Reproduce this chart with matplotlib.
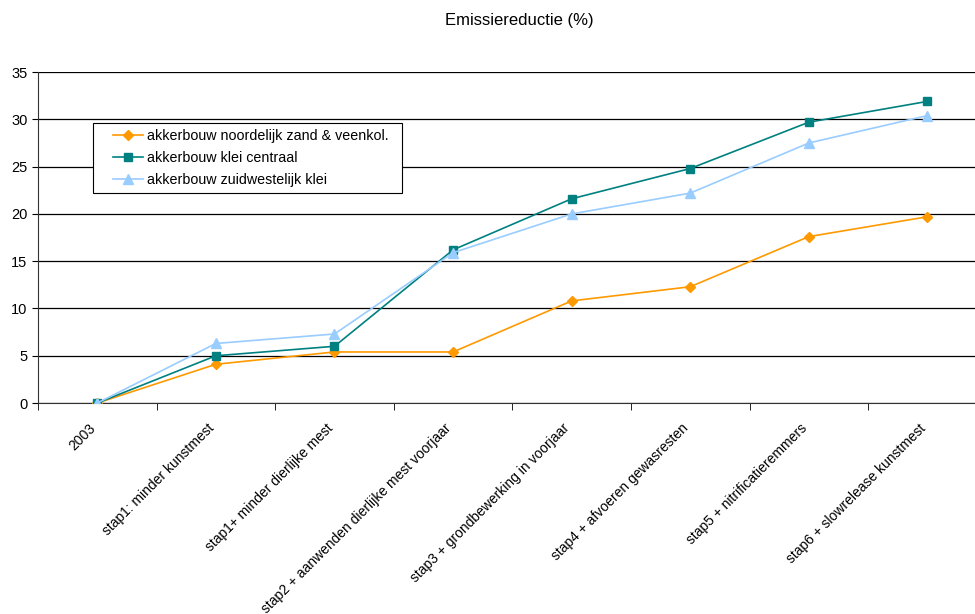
import matplotlib
matplotlib.use("Agg")
import matplotlib.pyplot as plt
import matplotlib.transforms as mtransforms
from matplotlib.lines import Line2D
from matplotlib.legend_handler import HandlerLine2D
import numpy as np

plt.rcParams['font.family'] = ['Liberation Sans', 'DejaVu Sans']

labels = ['2003', 'stap1: minder kunstmest', 'stap1+ minder dierlijke mest',
          'stap2 + aanwenden dierlijke mest voorjaar', 'stap3 + grondbewerking in voorjaar',
          'stap4 + afvoeren gewasresten', 'stap5 + nitrificatieremmers',
          'stap6 + slowrelease kunstmest']
noord = [0, 4.1, 5.4, 5.4, 10.8, 12.3, 17.6, 19.7]
klei_centraal = [0, 5.0, 6.0, 16.2, 21.6, 24.8, 29.7, 31.9]
zuidwest = [0, 6.3, 7.3, 15.9, 20.0, 22.2, 27.5, 30.4]

fig = plt.figure(figsize=(9.75, 6.14), dpi=100)
ax = fig.add_axes([0.039, 0.3436, 0.973, 0.539])

x = np.arange(len(labels))
ax.plot(x, noord, color='#FF9900', marker='D', markersize=5, lw=1.2,
        label='akkerbouw noordelijk zand & veenkol.  ', zorder=3)
ax.plot(x, klei_centraal, color='#008080', marker='s', markersize=6, lw=1.2,
        label='akkerbouw klei centraal', zorder=4)
ax.plot(x, zuidwest, color='#99CCFF', marker='^', markersize=7, lw=1.2,
        label='akkerbouw zuidwestelijk klei', zorder=5)

ax.set_ylim(0, 35)
ax.set_xlim(-0.5, 7.5)
ax.set_yticks(range(0, 36, 5))
ax.yaxis.grid(True, color='black', lw=0.9)
ax.set_axisbelow(True)
ax.tick_params(axis='y', labelsize=10.5, length=4, direction='out')

ax.set_xticks(x)
ax.set_xticklabels(labels, rotation=45, ha='right', rotation_mode='anchor', fontsize=10)
ax.tick_params(axis='x', which='major', length=0, pad=13)
shift = mtransforms.ScaledTranslation(-0.09, 0, fig.dpi_scale_trans)
for t in ax.get_xticklabels():
    t.set_transform(t.get_transform() + shift)
ax.set_xticks(np.arange(-0.5, 8, 1), minor=True)
ax.tick_params(axis='x', which='minor', length=5, direction='out')

for s in ['top', 'right']:
    ax.spines[s].set_visible(False)
ax.spines['left'].set_color('#333333')
ax.spines['bottom'].set_color('#333333')

leg = ax.legend(loc='upper left', bbox_to_anchor=(0.058, 0.846), borderaxespad=0,
                fontsize=10.3, fancybox=False, edgecolor='black', framealpha=1,
                handlelength=3.1, handletextpad=0.25, borderpad=0.4, labelspacing=0.56,
                handler_map={Line2D: HandlerLine2D(xpad=1.0)})
leg.get_frame().set_linewidth(0.8)

fig.text(0.533, 0.966, 'Emissiereductie (%)', ha='center', va='center', fontsize=12)

fig.savefig('out.png', dpi=100)
